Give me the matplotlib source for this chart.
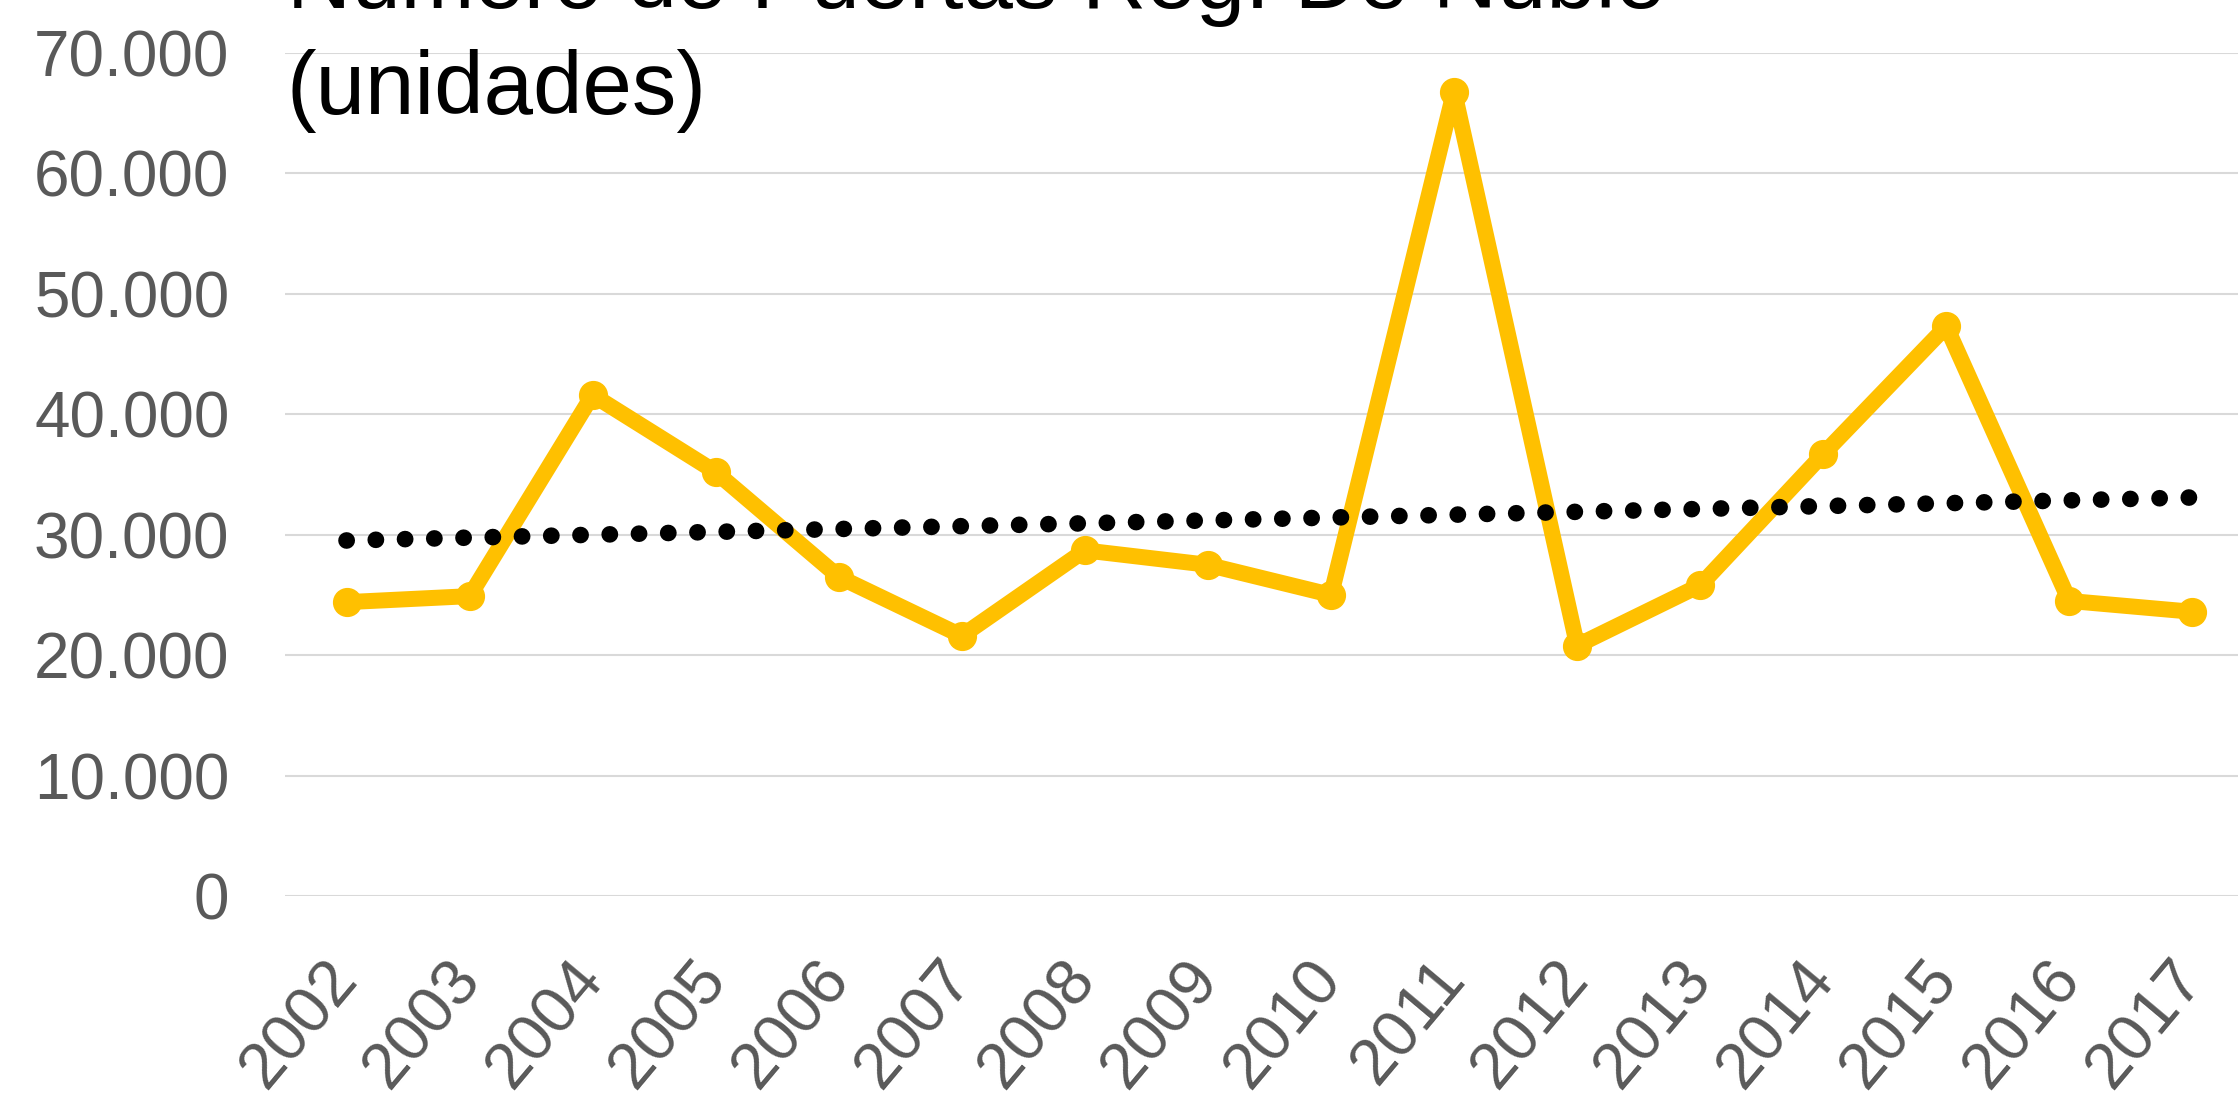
import numpy as np
import matplotlib
matplotlib.use("Agg")
import matplotlib.pyplot as plt
from matplotlib.ticker import FuncFormatter

plt.rcParams['font.family'] = ['Liberation Sans', 'DejaVu Sans']

# Datos
anios = ['2002', '2003', '2004', '2005', '2006', '2007', '2008', '2009',
         '2010', '2011', '2012', '2013', '2014', '2015', '2016', '2017']
unidades = [24400, 24900, 41600, 35200, 26500, 21600, 28700, 27500,
            25000, 66800, 20800, 25800, 36700, 47300, 24500, 23600]
ticks_y = [0, 10000, 20000, 30000, 40000, 50000, 60000, 70000]

titulo_1 = 'Número de Puertas Reg. De Ñuble'
titulo_2 = '(unidades)'

gris_txt = '#595959'
amarillo = '#FFC000'

fig = plt.figure(figsize=(22.38, 11.02), dpi=100)
ax = fig.add_axes([285 / 2238, (1102 - 896) / 1102, 1 - 285 / 2238, (896 - 53) / 1102])

x = np.arange(len(anios))

# linea de tendencia lineal (como en Excel)
pend, inter = np.polyfit(x, unidades, 1)
xt = np.array([x[0], x[-1]])
ax.plot(xt, pend * xt + inter, color='black', lw=12,
        dashes=(0.01, 1.745), dash_capstyle='round', zorder=4)

ax.plot(x, unidades, color=amarillo, lw=11.5, marker='o', markersize=20,
        markerfacecolor=amarillo, markeredgecolor=amarillo,
        solid_joinstyle='round', zorder=3, clip_on=False)

ax.set_xlim(-0.5, 15.37)
ax.set_ylim(0, 70000)
ax.set_yticks(ticks_y)
ax.yaxis.set_major_formatter(FuncFormatter(lambda v, p: f'{int(v):,}'.replace(',', '.')))
ax.set_xticks(x)
ax.set_xticklabels(anios, rotation=50, ha='right', va='center', rotation_mode='anchor')

ax.grid(axis='y', color='#D9D9D9', lw=1.5)
ax.set_axisbelow(True)
for s in ax.spines.values():
    s.set_visible(False)
ax.tick_params(axis='both', length=0, labelcolor=gris_txt)
ax.tick_params(axis='y', pad=40, labelsize=46)
ax.tick_params(axis='x', pad=52, labelsize=47)

fig.text(287 / 2238, 1 - 8 / 1102, titulo_1, fontsize=64, color='black',
         ha='left', va='baseline')
fig.text(287 / 2238, 1 - 114 / 1102, titulo_2, fontsize=64, color='black',
         ha='left', va='baseline')

fig.savefig('out.png', dpi=100)
